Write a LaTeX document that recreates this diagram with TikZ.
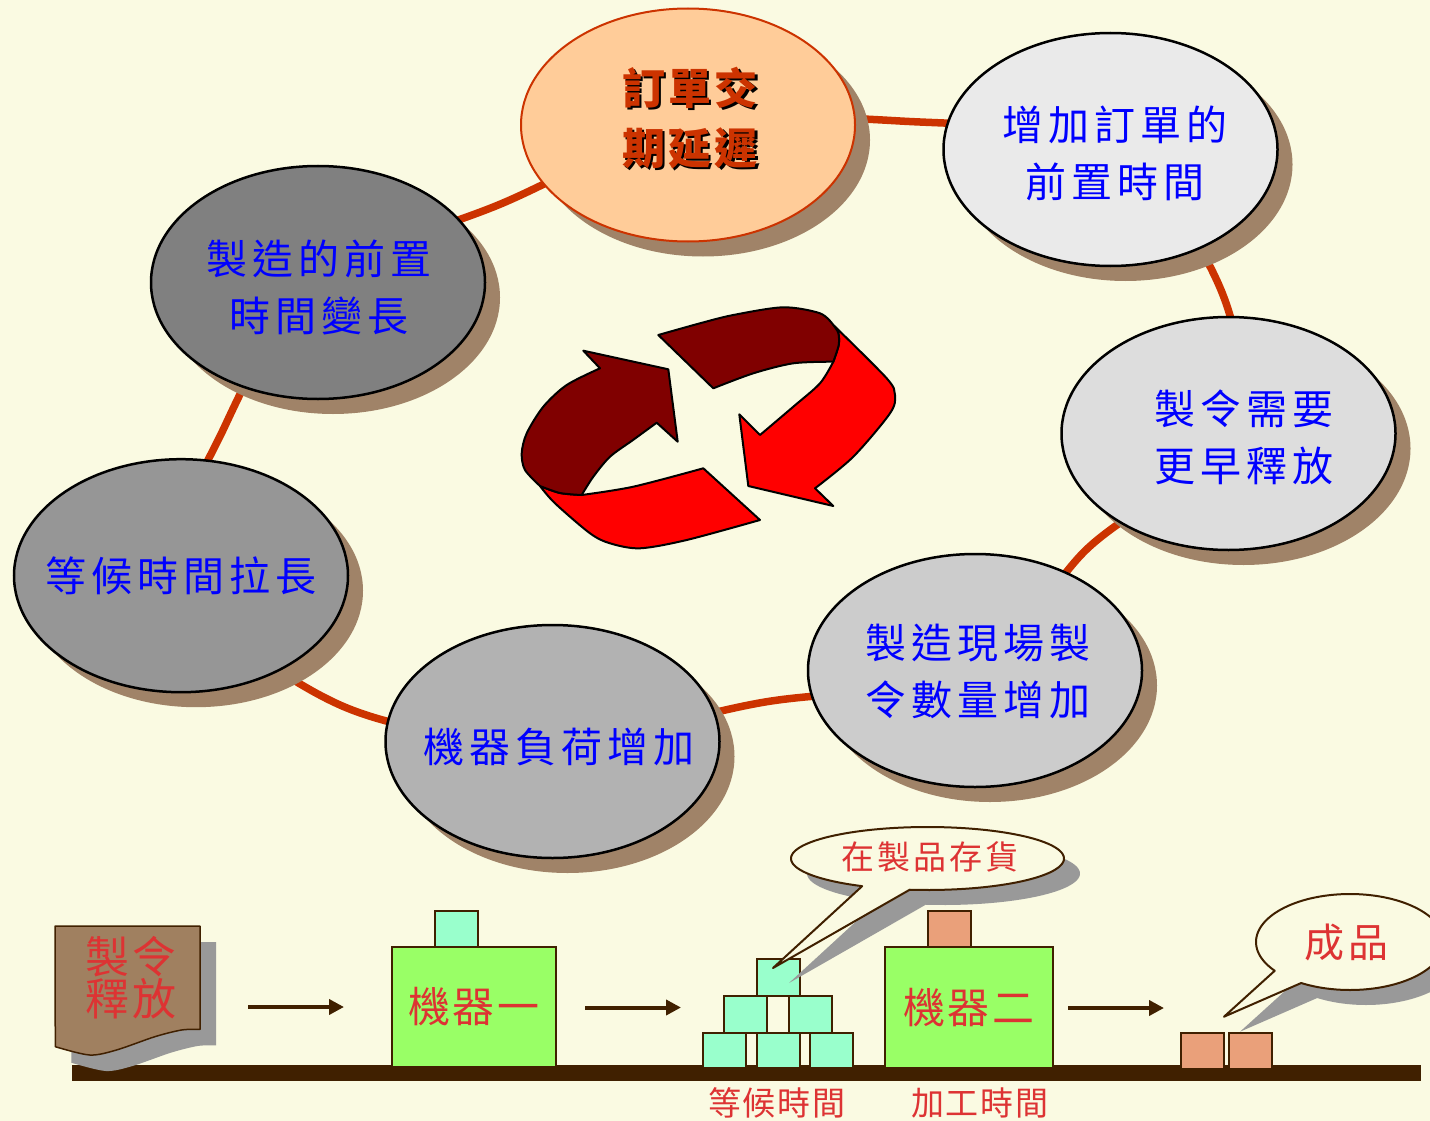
\documentclass[tikz,border=0pt]{standalone}
\usepackage{fontspec}
\newfontfamily\cjk{Noto Sans CJK TC}
\usetikzlibrary{shapes.geometric,shadows,arrows.meta}

\definecolor{bgc}{RGB}{250,250,226}
\definecolor{shbrown}{RGB}{160,131,104}
\definecolor{ringc}{RGB}{204,51,0}
\definecolor{peach}{RGB}{255,204,153}
\definecolor{blueT}{RGB}{0,0,255}
\definecolor{redT}{RGB}{221,51,51}
\definecolor{brn}{RGB}{64,32,0}
\definecolor{docfill}{RGB}{160,128,96}
\definecolor{shgray}{RGB}{153,153,153}
\definecolor{mgreen}{RGB}{153,255,102}
\definecolor{aqua}{RGB}{153,255,204}
\definecolor{salmon}{RGB}{234,160,122}
\definecolor{darkrib}{RGB}{128,0,0}
\definecolor{redrib}{RGB}{255,0,0}

\begin{document}
\begin{tikzpicture}[x=1pt,y=-1pt,
  ell/.style={ellipse, draw=black, line width=2.5pt, minimum width=334pt,
    minimum height=233pt, inner sep=0pt,
    drop shadow={shadow xshift=15pt, shadow yshift=-15pt, fill=shbrown, opacity=1}},
  etext/.style={font=\cjk\fontsize{41}{57}\selectfont\addfontfeature{LetterSpace=12},
    text=blueT, align=center, inner sep=0pt},
  ttl/.style={font=\cjk\bfseries\fontsize{43}{60}\selectfont\addfontfeature{LetterSpace=8},
    align=center, inner sep=0pt},
  ring/.style={draw=ringc, line width=7.5pt},
  rib/.style={draw=black, line width=2pt, line join=round},
  flow/.style={draw=brn, line width=4pt, -{Triangle[length=15pt,width=15pt]}},
  machine/.style={rectangle, draw=brn, line width=2pt, fill=mgreen, inner sep=0pt,
    text=redT, font=\cjk\fontsize{42}{50}\selectfont\addfontfeature{LetterSpace=7}},
  cube/.style={draw=brn, line width=1.5pt},
  bubble/.style={draw=brn, line width=2pt, fill=bgc, line join=round},
  redtxt/.style={text=redT, inner sep=0pt, align=center}
]
\useasboundingbox (0,0) rectangle (1430,1121);
\fill[bgc] (0,0) rectangle (1430,1121);

% centres of the seven stages
\coordinate (c1) at (688,125);
\coordinate (c2) at (1110.5,149.5);
\coordinate (c3) at (1228.5,433.5);
\coordinate (c4) at (975,670.5);
\coordinate (c5) at (552.5,741.5);
\coordinate (c6) at (181,575.7);
\coordinate (c7) at (318,282.5);
% points the loop passes between the stages
\coordinate (m12) at (900,121);
\coordinate (m23) at (1221,290);
\coordinate (m34) at (1088,548);
\coordinate (m45) at (765,702);
\coordinate (m56) at (340,705);
\coordinate (m67) at (224,428);
\coordinate (m71) at (503,203);

% the loop joining the stages
\draw[ring] plot[smooth cycle, tension=0.55] coordinates {(c1) (m12) (c2) (m23) (c3) (m34) (c4) (m45) (c5) (m56) (c6) (m67) (c7) (m71)};

% stages
\node[ell, fill=peach, draw=ringc, line width=2pt] (e1) at (c1) {};
\node[ttl, text=black] (t1s) at (692.5,120.5) {訂單交\\期延遲};
\node[ttl, text=ringc] (t1) at (690,118) {訂單交\\期延遲};

\node[ell, fill={rgb,255:red,234;green,234;blue,234}] (e2) at (c2) {};
\node[etext] (t2) at (1115,153) {增加訂單的\\前置時間};

\node[ell, fill={rgb,255:red,221;green,221;blue,221}] (e3) at (c3) {};
\node[etext] (t3) at (1244,437) {製令需要\\更早釋放};

\node[ell, fill={rgb,255:red,204;green,204;blue,204}] (e4) at (c4) {};
\node[etext] (t4) at (978,671) {製造現場製\\令數量增加};

\node[ell, fill={rgb,255:red,178;green,178;blue,178}] (e5) at (c5) {};
\node[etext] (t5) at (559,747) {機器負荷增加};

\node[ell, fill={rgb,255:red,150;green,150;blue,150}] (e6) at (c6) {};
\node[etext] (t6) at (181,576) {等候時間拉長};

\node[ell, fill={rgb,255:red,128;green,128;blue,128}] (e7) at (c7) {};
\node[etext] (t7) at (319,287) {製造的前置\\時間變長};

% cycle symbol in the middle
\filldraw[rib, fill=redrib] (833.3,361.7)
  -- plot[smooth] coordinates {(833.3,361.7) (820,383.3) (793.3,406.7) (760,435)}
  -- (739.3,414.3) -- (748.3,486) -- (833.3,506) -- (815,488.3)
  -- plot[smooth] coordinates {(815,488.3) (853.3,456.7) (890,413.3) (895,395) (886.7,378.3) (833.3,325)}
  -- plot[smooth] coordinates {(833.3,325) (838.3,333) (838.7,345) (833.3,361.7)} -- cycle;
\filldraw[rib, fill=darkrib] (658.3,335) -- (713.3,388.3)
  -- plot[smooth] coordinates {(713.3,388.3) (753.3,373.3) (793.3,363.3) (833.3,361.7)}
  -- plot[smooth] coordinates {(833.3,361.7) (838.7,345) (838.3,333) (833.3,325)}
  -- plot[smooth] coordinates {(833.3,325) (820,313.3) (783.3,307.3) (733.3,315) (700,323.3) (658.3,335)}
  -- cycle;
\filldraw[rib, fill=redrib] (540,486)
  -- plot[smooth] coordinates {(540,486) (555,503.3) (590,533.3) (610,543.3) (640,548.3) (686.7,540) (760,520)}
  -- (703.3,468.3)
  -- plot[smooth] coordinates {(703.3,468.3) (633.3,486.7) (581.7,495)}
  -- plot[smooth] coordinates {(581.7,495) (560,493) (540,486)} -- cycle;
\filldraw[rib, fill=darkrib] (600,368.3) -- (583.3,350.7) -- (668.3,369.3) -- (677.7,441.7) -- (656.7,422.7)
  -- plot[smooth] coordinates {(656.7,422.7) (633,440) (610,456.7) (593.3,476.7) (581.7,495)}
  -- plot[smooth] coordinates {(581.7,495) (560,493) (540,486)}
  -- plot[smooth] coordinates {(540,486) (525,470) (521.7,453.3) (526.7,433.3) (543.3,406.7) (566.7,385) (600,368.3)}
  -- cycle;

% production line
\fill[brn] (72,1065) rectangle (1421,1081);

% work order sheet
\begin{scope}[shift={(16,16)}]
\fill[shgray] (55,926) -- (200,926) -- (200,1029)
  -- plot[smooth] coordinates {(200,1029.3) (181.6,1030) (154.8,1036.7) (116.5,1050) (89.7,1055) (55.3,1046.7)} -- cycle;
\end{scope}
\filldraw[draw=brn, line width=1.5pt, fill=docfill, line join=round] (55,926) -- (200,926) -- (200,1029)
  -- plot[smooth] coordinates {(200,1029.3) (181.6,1030) (154.8,1036.7) (116.5,1050) (89.7,1055) (55.3,1046.7)} -- cycle;
\node[redtxt, font=\cjk\fontsize{44}{42}\selectfont\addfontfeature{LetterSpace=7}] (dtxt) at (131,978) {製令\\釋放};

% parts
\filldraw[cube, fill=aqua] (435,911) rectangle (478,947);
\filldraw[cube, fill=aqua] (703,1033) rectangle (746,1068);
\filldraw[cube, fill=aqua] (757,1033) rectangle (800,1068);
\filldraw[cube, fill=aqua] (810,1033) rectangle (853,1068);
\filldraw[cube, fill=aqua] (724,996) rectangle (767,1033);
\filldraw[cube, fill=aqua] (789,996) rectangle (832,1033);
\filldraw[cube, fill=aqua] (757,959) rectangle (800,996);
\filldraw[cube, fill=salmon] (928,911) rectangle (971,947);
\filldraw[cube, fill=salmon] (1181,1033) rectangle (1224,1069);
\filldraw[cube, fill=salmon] (1229,1033) rectangle (1272,1069);

% machines
\node[machine, minimum width=164pt, minimum height=120pt] (m1) at (474,1007) {機器一};
\node[machine, minimum width=168pt, minimum height=121pt] (m2) at (969,1007.5) {機器二};

% flow arrows
\coordinate (f1a) at (248,1007);
\coordinate (f1b) at (344,1007);
\coordinate (f2a) at (585,1007.5);
\coordinate (f2b) at (681,1007.5);
\coordinate (f3a) at (1068,1008);
\coordinate (f3b) at (1164,1008);
\draw[flow] (f1a) -- (f1b);
\draw[flow] (f2a) -- (f2b);
\draw[flow] (f3a) -- (f3b);

% callout: work in process
\begin{scope}[shift={(16,15)}]
\fill[shgray] plot[domain=118.6:457.5, samples=120, variable=\t] ({927.5+136.5*cos(\t)},{858.5+31.5*sin(\t)}) -- (773,968) -- cycle;
\end{scope}
\draw[bubble] plot[domain=118.6:457.5, samples=120, variable=\t] ({927.5+136.5*cos(\t)},{858.5+31.5*sin(\t)}) -- (773,968) -- cycle;
\node[redtxt, font=\cjk\fontsize{33}{40}\selectfont\addfontfeature{LetterSpace=9}] (bA) at (930,857) {在製品存貨};

% callout: finished goods
\begin{scope}[shift={(16,15)}]
\fill[shgray] plot[domain=143.2:481.3, samples=120, variable=\t] ({1350+94*cos(\t)},{942+48*sin(\t)}) -- (1224,1016.7) -- cycle;
\end{scope}
\draw[bubble] plot[domain=143.2:481.3, samples=120, variable=\t] ({1350+94*cos(\t)},{942+48*sin(\t)}) -- (1224,1016.7) -- cycle;
\node[redtxt, font=\cjk\fontsize{40}{48}\selectfont\addfontfeature{LetterSpace=10}] (bB) at (1346,942) {成品};

% time labels
\node[redtxt, font=\cjk\fontsize{33}{40}\selectfont\addfontfeature{LetterSpace=6}] (lw) at (777,1103) {等候時間};
\node[redtxt, font=\cjk\fontsize{33}{40}\selectfont\addfontfeature{LetterSpace=6}] (lp) at (980,1103) {加工時間};
\end{tikzpicture}
\end{document}
